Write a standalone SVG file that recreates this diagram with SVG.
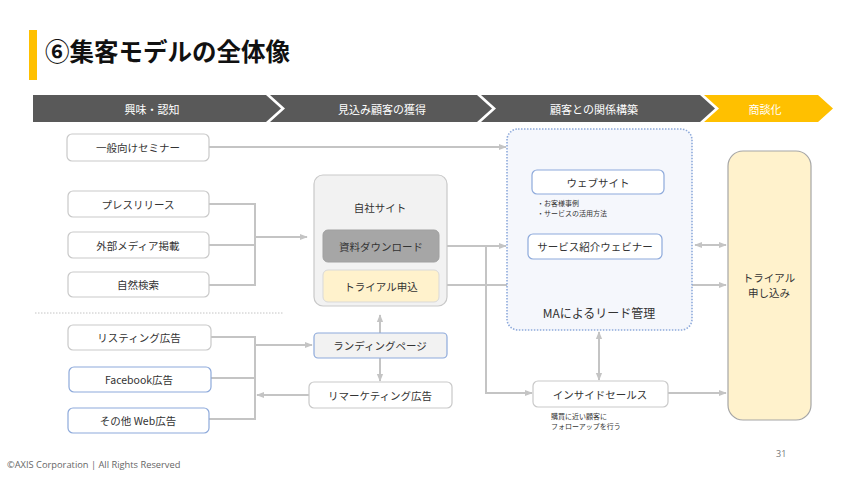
<svg xmlns="http://www.w3.org/2000/svg" width="850" height="478" viewBox="0 0 850 478">
<style>
text{font-family:"Noto Sans CJK JP","Noto Sans",sans-serif;fill:#333}
.n{fill:#fff;stroke:#c9c9c9;stroke-width:1.2}
.nb{fill:#fff;stroke:#8eaadb;stroke-width:1.2}
.t{font-size:10.5px;text-anchor:middle;dominant-baseline:central}
.s{font-size:7px}
.c{fill:none;stroke:#c4c4c4;stroke-width:2}
.ch{font-size:11px;fill:#fff;text-anchor:middle;dominant-baseline:central}
</style>
<defs>
<marker id="a" viewBox="0 0 10 10" refX="9" refY="5" markerWidth="4" markerHeight="4" orient="auto-start-reverse"><path d="M0,1 L10,5 L0,9 z" fill="#c4c4c4"/></marker>
</defs>
<rect width="850" height="478" fill="#fff"/>
<rect x="29" y="30" width="8" height="50" fill="#ffc000"/>
<text x="45" y="61" style="font-size:24.5px;font-weight:bold;fill:#111">⑥集客モデルの全体像</text>
<g id="phases">
<polygon points="33,95 266,95 281,108.5 266,122 33,122" fill="#595959"/>
<polygon points="270,95 477,95 492,108.5 477,122 270,122 285,108.5" fill="#595959"/>
<polygon points="481,95 700,95 715,108.5 700,122 481,122 496,108.5" fill="#595959"/>
<polygon points="704,95 818,95 833,108.5 818,122 704,122 719,108.5" fill="#ffc000"/>
<text class="ch" x="152" y="108.5">興味・認知</text>
<text class="ch" x="382" y="108.5">見込み顧客の獲得</text>
<text class="ch" x="594" y="108.5">顧客との関係構築</text>
<text class="ch" x="765" y="108.5">商談化</text>
</g>
<line x1="35" y1="313" x2="283" y2="313" stroke="#c4c4c4" stroke-width="1" stroke-dasharray="1.5,1.5"/>
<g id="connectors">
<path class="c" d="M209,147 H506" marker-end="url(#a)"/>
<path class="c" d="M209,204 H255 V285 H209 M209,245 H255"/>
<path class="c" d="M255,237 H307" marker-end="url(#a)"/>
<path class="c" d="M211,337 H255 V419 H209 M211,378 H255"/>
<path class="c" d="M255,345 H312" marker-end="url(#a)"/>
<path class="c" d="M309,395 H257" marker-end="url(#a)"/>
<path class="c" d="M380,333 V315" marker-end="url(#a)"/>
<path class="c" d="M380,358 V381" marker-end="url(#a)"/>
<path class="c" d="M439,246 H506" marker-end="url(#a)"/>
<path class="c" d="M486,246 V393 H532" marker-end="url(#a)"/>
<path class="c" d="M439,285 H726" marker-end="url(#a)"/>
<path class="c" d="M695,245 H726" marker-start="url(#a)" marker-end="url(#a)"/>
<path class="c" d="M599,332 V380" marker-start="url(#a)" marker-end="url(#a)"/>
<path class="c" d="M668,393 H726" marker-end="url(#a)"/>
</g>
<g id="seminar"><rect class="n" x="67" y="134" width="142" height="27" rx="5"/><text class="t" x="138" y="147.5">一般向けセミナー</text></g>
<g id="press"><rect class="n" x="68" y="191" width="141" height="26" rx="5"/><text class="t" x="138" y="204">プレスリリース</text></g>
<g id="media"><rect class="n" x="68" y="232" width="141" height="26" rx="5"/><text class="t" x="138" y="245">外部メディア掲載</text></g>
<g id="search"><rect class="n" x="68" y="272" width="141" height="25" rx="5"/><text class="t" x="138" y="284.5">自然検索</text></g>
<g id="listing"><rect class="n" x="68" y="325" width="143" height="25" rx="5"/><text class="t" x="139" y="337.5">リスティング広告</text></g>
<g id="facebook"><rect class="nb" x="69" y="367" width="142" height="25" rx="5"/><text class="t" x="139" y="379.5">Facebook広告</text></g>
<g id="otherweb"><rect class="nb" x="68" y="408" width="141" height="25" rx="5"/><text class="t" x="138" y="420.5">その他 Web広告</text></g>
<g id="site">
<rect x="314" y="175" width="133" height="131" rx="9" fill="#f2f2f2" stroke="#c9c9c9" stroke-width="1.2"/>
<text class="t" x="380" y="207">自社サイト</text>
</g>
<g id="download"><rect x="323" y="230" width="116" height="32" rx="5" fill="#a6a6a6" stroke="#a0a0a0"/><text class="t" x="381" y="246">資料ダウンロード</text></g>
<g id="trialapply"><rect x="323" y="270" width="116" height="32" rx="5" fill="#fff2cc" stroke="#d9d9d9"/><text class="t" x="381" y="286">トライアル申込</text></g>
<g id="landing"><rect x="314" y="333" width="133" height="25" rx="4" fill="#f2f2f2" stroke="#8eaadb" stroke-width="1.2"/><text class="t" x="380" y="345.5">ランディングページ</text></g>
<g id="remarketing"><rect class="n" x="309" y="382" width="143" height="26" rx="5"/><text class="t" x="380" y="395">リマーケティング広告</text></g>
<g id="ma">
<rect x="507" y="129" width="185" height="201" rx="11" fill="#f5f7fc" stroke="#8eaadb" stroke-width="1.6" stroke-dasharray="1.5,1.5"/>
<text class="t" x="599" y="312" style="font-size:12px">MAによるリード管理</text>
</g>
<g id="website"><rect class="nb" x="532" y="170" width="132" height="24" rx="5"/><text class="t" x="598" y="182">ウェブサイト</text>
<text class="s" x="537" y="206">・お客様事例</text><text class="s" x="537" y="215.5">・サービスの活用方法</text></g>
<g id="webinar"><rect class="nb" x="528" y="234" width="134" height="25" rx="5"/><text class="t" x="595" y="246.5">サービス紹介ウェビナー</text></g>
<g id="insidesales"><rect class="n" x="533" y="381" width="135" height="26" rx="5"/><text class="t" x="600" y="394">インサイドセールス</text>
<text class="s" x="551" y="419">購買に近い顧客に</text><text class="s" x="551" y="429">フォローアップを行う</text></g>
<g id="trial"><rect x="728" y="151" width="83" height="269" rx="15" fill="#fff2cc" stroke="#a6a6a6" stroke-width="1.2"/>
<text class="t" x="769" y="277">トライアル</text><text class="t" x="769" y="292">申し込み</text></g>
<text x="776" y="457" style="font-size:9px;fill:#777;font-family:'Open Sans',sans-serif">31</text>
<text x="7" y="468" style="font-size:9.3px;fill:#666;font-family:'Open Sans',sans-serif">©AXIS Corporation | All Rights Reserved</text>
</svg>
